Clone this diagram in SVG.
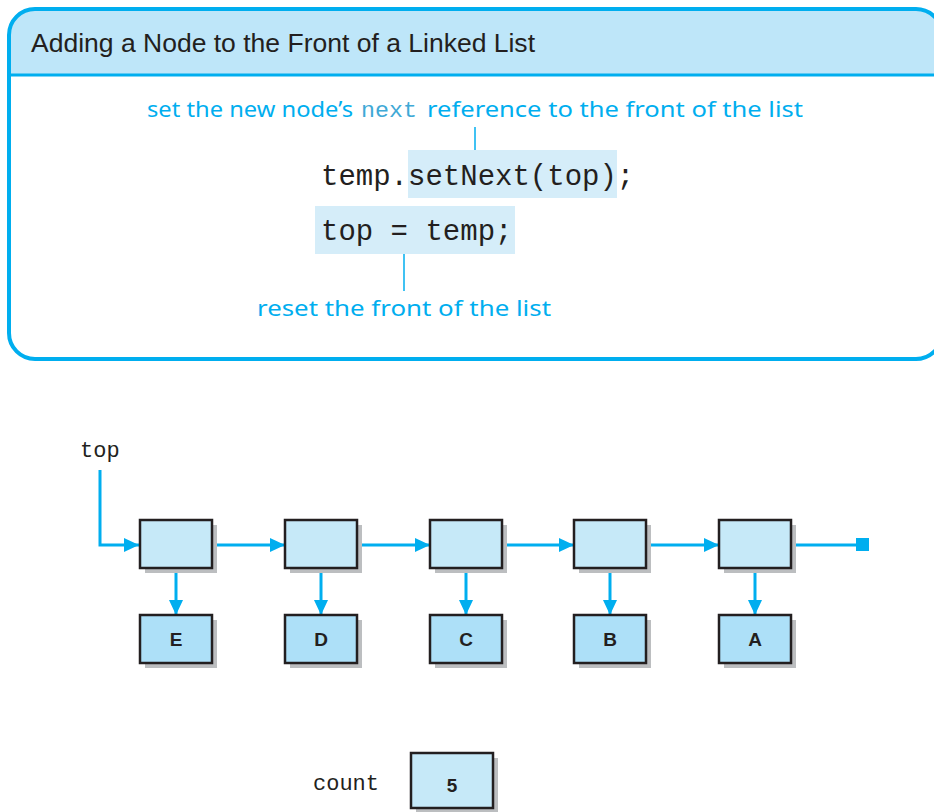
<svg xmlns="http://www.w3.org/2000/svg" width="934" height="812" viewBox="0 0 934 812">
  <style>
    .title { font-family: "Liberation Sans", Arial, sans-serif; font-size: 25px; fill: #231f20; }
    .note { font-family: "Comic Sans MS", "Noto Sans", "Liberation Sans", sans-serif; font-size: 22px; fill: #00aeef; }
    .notecode { font-family: "Liberation Mono", "Courier New", monospace; font-size: 22px; fill: #3fa9d6; }
    .code { font-family: "Liberation Mono", "Courier New", monospace; font-size: 29px; fill: #231f20; }
    .var { font-family: "Liberation Mono", "Courier New", monospace; font-size: 22px; fill: #231f20; }
    .hl { fill: #d5edf9; }
    .lead { stroke: #00aeef; stroke-width: 1.5; fill: none; }
    .link { stroke: #00aeef; stroke-width: 3; fill: none; }
    .shadow { fill: #bcbec0; }
    .cell { fill: #c6e9f8; stroke: #231f20; stroke-width: 2.5; }
    .val { fill: #ade0f8; stroke: #231f20; stroke-width: 2.5; }
    .lbl { font-family: "Liberation Sans", Arial, sans-serif; font-size: 19px; font-weight: bold; fill: #231f20; text-anchor: middle; }
  </style>
  <defs>
    <marker id="arrow" viewBox="0 0 15 14" refX="15" refY="7" markerWidth="15" markerHeight="14" markerUnits="userSpaceOnUse" orient="auto">
      <path d="M0,0 L15,7 L0,14 Z" fill="#00aeef"/>
    </marker>
  </defs>

  <rect width="934" height="812" fill="#ffffff"/>

  <!-- header panel -->
  <g id="panel">
    <path d="M9,75 L9,34 Q9,9 34,9 L916,9 Q942,9 942,34 L942,75 Z" fill="#bee6f9"/>
    <rect x="9" y="9" width="933" height="350" rx="26" ry="26" fill="none" stroke="#00aeef" stroke-width="4"/>
    <line x1="9" y1="75" x2="942" y2="75" stroke="#00aeef" stroke-width="3"/>
    <text class="title" x="31" y="52" textLength="504" lengthAdjust="spacingAndGlyphs">Adding a Node to the Front of a Linked List</text>
  </g>

  <!-- code with annotations -->
  <g id="code">
    <rect class="hl" x="408" y="150" width="209" height="48"/>
    <rect class="hl" x="315" y="206" width="200" height="48"/>
    <text class="code" x="321" y="185">temp.setNext(top);</text>
    <text class="code" x="321" y="240">top = temp;</text>
  </g>
  <g id="note-top">
    <text class="note" x="147" y="117" textLength="206" lengthAdjust="spacingAndGlyphs">set the new node’s</text>
    <text class="notecode" x="361" y="117" textLength="56" lengthAdjust="spacingAndGlyphs">next</text>
    <text class="note" x="427" y="117" textLength="376" lengthAdjust="spacingAndGlyphs">reference to the front of the list</text>
    <line class="lead" x1="475" y1="127" x2="475" y2="150"/>
  </g>
  <g id="note-bottom">
    <line class="lead" x1="404" y1="254" x2="404" y2="291"/>
    <text class="note" x="257" y="316" textLength="294" lengthAdjust="spacingAndGlyphs">reset the front of the list</text>
  </g>

  <!-- connectors -->
  <g id="connectors">
    <polyline class="link" points="100,470 100,545 139,545" marker-end="url(#arrow)"/>
    <line class="link" x1="212" y1="545" x2="285" y2="545" marker-end="url(#arrow)"/>
    <line class="link" x1="357" y1="545" x2="430" y2="545" marker-end="url(#arrow)"/>
    <line class="link" x1="502" y1="545" x2="574" y2="545" marker-end="url(#arrow)"/>
    <line class="link" x1="646" y1="545" x2="719" y2="545" marker-end="url(#arrow)"/>
    <line class="link" x1="791" y1="545" x2="858" y2="545"/>
    <rect x="856" y="538" width="13" height="13" fill="#00aeef"/>
    <line class="link" x1="176" y1="568" x2="176" y2="615" marker-end="url(#arrow)"/>
    <line class="link" x1="321" y1="568" x2="321" y2="615" marker-end="url(#arrow)"/>
    <line class="link" x1="466" y1="568" x2="466" y2="615" marker-end="url(#arrow)"/>
    <line class="link" x1="610" y1="568" x2="610" y2="615" marker-end="url(#arrow)"/>
    <line class="link" x1="755" y1="568" x2="755" y2="615" marker-end="url(#arrow)"/>
  </g>

  <text class="var" x="80" y="457">top</text>

  <!-- list nodes -->
  <g id="node1">
    <rect class="shadow" x="145" y="525" width="72" height="48"/>
    <rect class="cell" x="140" y="520" width="72" height="48"/>
  </g>
  <g id="node2">
    <rect class="shadow" x="290" y="525" width="72" height="48"/>
    <rect class="cell" x="285" y="520" width="72" height="48"/>
  </g>
  <g id="node3">
    <rect class="shadow" x="435" y="525" width="72" height="48"/>
    <rect class="cell" x="430" y="520" width="72" height="48"/>
  </g>
  <g id="node4">
    <rect class="shadow" x="579" y="525" width="72" height="48"/>
    <rect class="cell" x="574" y="520" width="72" height="48"/>
  </g>
  <g id="node5">
    <rect class="shadow" x="724" y="525" width="72" height="48"/>
    <rect class="cell" x="719" y="520" width="72" height="48"/>
  </g>

  <!-- element values -->
  <g id="valE">
    <rect class="shadow" x="145" y="620" width="72" height="48"/>
    <rect class="val" x="140" y="615" width="72" height="48"/>
    <text class="lbl" x="176" y="646">E</text>
  </g>
  <g id="valD">
    <rect class="shadow" x="290" y="620" width="72" height="48"/>
    <rect class="val" x="285" y="615" width="72" height="48"/>
    <text class="lbl" x="321" y="646">D</text>
  </g>
  <g id="valC">
    <rect class="shadow" x="435" y="620" width="72" height="48"/>
    <rect class="val" x="430" y="615" width="72" height="48"/>
    <text class="lbl" x="466" y="646">C</text>
  </g>
  <g id="valB">
    <rect class="shadow" x="579" y="620" width="72" height="48"/>
    <rect class="val" x="574" y="615" width="72" height="48"/>
    <text class="lbl" x="610" y="646">B</text>
  </g>
  <g id="valA">
    <rect class="shadow" x="724" y="620" width="72" height="48"/>
    <rect class="val" x="719" y="615" width="72" height="48"/>
    <text class="lbl" x="755" y="646">A</text>
  </g>

  <!-- count -->
  <g id="count">
    <text class="var" x="313" y="790">count</text>
    <rect class="shadow" x="416" y="758" width="82" height="55"/>
    <rect class="cell" x="411" y="753" width="82" height="55"/>
    <text class="lbl" x="452" y="792">5</text>
  </g>
</svg>
